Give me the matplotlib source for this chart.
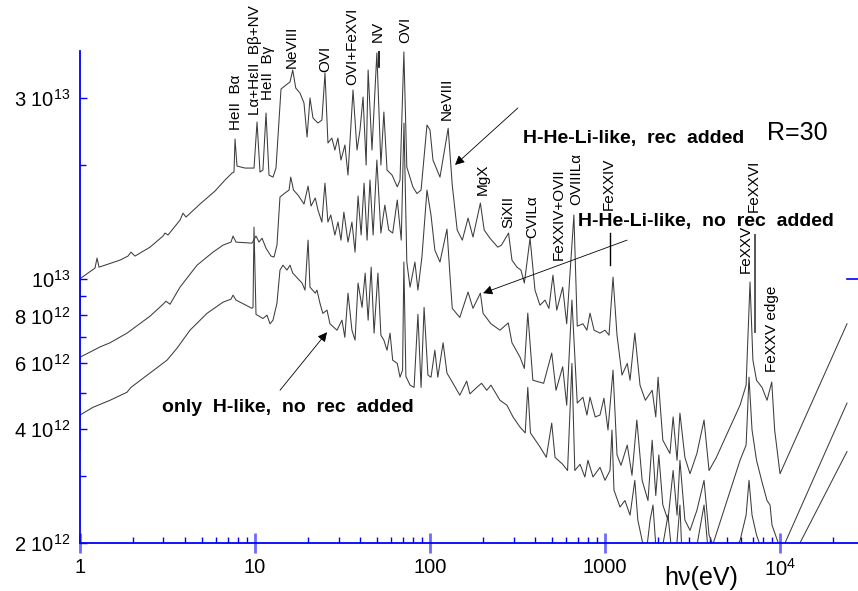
import matplotlib
matplotlib.use("Agg")
import matplotlib.pyplot as plt

plt.rcParams['font.family'] = ['Liberation Sans', 'DejaVu Sans']
plt.rcParams['mathtext.fontset'] = 'custom'
plt.rcParams['mathtext.rm'] = 'Liberation Sans'
plt.rcParams['mathtext.it'] = 'Liberation Sans:italic'

# ---------------- data (energy in eV, flux in units of 1e12) ----------------
top_e = [1.0, 1.0, 1.218, 1.251, 1.284, 1.693, 1.880, 1.956, 2.062, 2.512, 2.981, 3.060, 3.183,
         3.728, 3.878, 4.034, 4.850, 5.909, 6.739, 7.389, 7.586, 7.687, 7.892, 8.768, 9.871,
         10.27, 10.68, 11.10, 11.56, 12.02, 12.67, 13.18, 14.08, 15.02, 15.85, 16.43, 17.09,
         18.08, 19.05, 19.84, 20.62, 21.44, 22.88, 24.11, 25.12, 26.11, 27.48, 28.61, 29.76,
         30.99, 32.65, 33.99, 36.31, 38.28, 39.81, 41.44, 43.15, 44.3, 46.6, 49.7, 52.4, 54.5,
         56.8, 60.7, 65.0, 67.4, 70.9, 73.7, 79.8, 84.2, 88.9, 96.1, 100, 104, 114, 127, 134,
         143, 153, 165, 176, 194, 204, 220, 244, 256, 281, 294, 314, 331, 346, 373, 398, 425,
         454, 478, 504, 530, 573, 604, 664, 694, 748, 788, 821, 866, 936, 1000, 1054, 1111,
         1171, 1250, 1340, 1390, 1480, 1585, 1700, 1860, 1950, 2010, 2140, 2350, 2450, 2580,
         2680, 2860, 3060, 3350, 3680, 3930, 4330, 5910, 6400, 6740, 7000, 7340, 7890, 8430,
         8970, 9320, 10000, 24140]
top_f = [7.27, 10.0, 10.67, 11.34, 10.73, 11.20, 11.48, 11.76, 11.48, 12.12, 12.97, 13.21, 13.05,
         14.29, 14.91, 14.56, 15.76, 17.06, 18.24, 19.03, 19.15, 23.41, 19.86, 19.62, 19.62,
         25.97, 19.15, 19.39, 27.43, 18.80, 18.57, 19.62, 31.75, 32.53, 33.15, 35.65, 31.95,
         30.98, 29.15, 23.70, 30.07, 26.62, 25.81, 26.29, 35.01, 22.86, 23.55, 21.90, 23.55,
         20.60, 22.58, 18.80, 31.56, 21.90, 24.74, 30.24, 19.98, 35.65, 21.90, 39.55, 19.98, 27.6,
         19.39, 18.80, 17.5, 18.24, 39.8, 19.74, 17.5, 16.8, 17.16, 25.5, 24.74, 20.6, 18.57, 25.0, 17.69,
         13.45, 12.65, 14.47, 12.89, 15.85, 13.45, 12.8, 12.12, 12.27, 13.21, 11.20, 10.73, 10.54, 9.74,
         12.8, 9.33, 8.51, 8.78, 8.35, 10.22, 8.26, 9.5, 7.6, 14.74, 7.49, 7.6, 7.31, 8.11, 7.31,
         7.18, 7.31, 7.09, 10.1, 7.09, 5.56, 5.97, 5.39, 7.18, 5.23, 4.77, 5.07, 4.31, 5.49, 3.74,
         3.45, 4.31, 3.31, 4.41, 3.37, 3.05, 3.45, 4.23, 3.11, 3.37, 4.63, 5.23, 9.8, 6.09, 5.39,
         5.16, 4.77, 5.33, 3.98, 3.05, 7.6]

mid_e = [1.0, 1.0, 1.301, 1.484, 1.856, 1.956, 2.512, 2.981, 3.101, 3.268, 3.728, 4.663, 5.756,
         6.565, 7.293, 7.487, 7.789, 9.615, 10.13, 10.54, 10.97, 11.56, 12.34, 12.84, 13.35, 13.89,
         14.82, 15.65, 16.0, 16.6, 17.6, 19.05, 20.1, 20.9, 22.1, 22.9, 24.1, 25.1, 26.1, 27.1,
         28.6, 29.8, 31.0, 32.2, 34.0, 35.8, 37.3, 38.8, 40.4, 42.0, 43.7, 45.4, 47.3, 49.7, 52.4,
         55.2, 58.1, 61.2, 65.0, 68.5, 71.0, 73.7, 76.9, 82.0, 85.3, 89.9, 96.1, 101.3, 106.6,
         114, 125, 130, 134, 148, 165, 176, 194, 201, 223, 251, 280, 294, 327, 346, 362, 387, 446,
         496, 525, 573, 604, 647, 694, 748, 788, 821, 879, 936, 986, 1040, 1111, 1171, 1234, 1340,
         1426, 1520, 1630, 1760, 1860, 1950, 2030, 2140, 2290, 2450, 2580, 2680, 2860, 3060, 3350,
         3680, 3930, 4130, 5910, 6400, 6650, 6920, 7340, 7890, 8430, 8770, 9000, 10000, 10530,
         24140]
mid_f = [4.36, 6.2, 6.6, 6.77, 7.18, 7.31, 7.96, 8.56, 8.72, 8.56, 9.5, 10.86, 11.76, 12.27, 12.5,
         12.97, 12.5, 12.42, 12.97, 12.5, 12.8, 12.04, 11.48, 11.41, 12.27, 16.45, 16.85, 17.16,
         18.57, 17.16, 16.65, 15.76, 17.58, 15.57, 16.35, 15.19, 14.12, 17.9, 14.12, 14.74, 13.05,
         14.12, 12.65, 15.0, 12.5, 14.12, 11.76, 16.55, 13.05, 17.9, 12.65, 18.24, 13.05, 20.6,
         13.21, 15.66, 13.45, 13.21, 16.15, 12.65, 25.8, 11.07, 9.5, 11.07, 9.33, 11.41, 17.16,
         14.74, 11.90, 11.07, 13.53, 10.22, 8.35, 7.9, 9.22, 8.35, 9.16, 8.1, 7.6, 7.31, 7.64,
         6.77, 6.2, 5.79, 8.11, 5.39, 5.29, 6.36, 5.07, 5.85, 4.63, 8.78, 4.69, 4.86, 4.36, 4.86,
         4.31, 4.36, 4.83, 3.98, 5.73, 3.42, 3.21, 3.63, 3.02, 4.23, 2.93, 2.59, 3.74, 2.67, 3.42,
         2.52, 2.30, 3.11, 2.37, 3.31, 2.30, 2.16, 2.44, 2.93, 2.10, 1.98, 3.31, 3.63, 5.49, 3.98,
         3.31, 2.9, 2.59, 2.52, 2.23, 1.94, 1.97, 4.69]

bot_e = [1.0, 1.0, 1.187, 1.484, 1.856, 1.956, 2.512, 3.142, 3.584, 4.252, 5.318, 6.565, 7.293,
         7.487, 7.789, 9.615, 9.742, 9.87, 10.13, 11.10, 11.71, 12.18, 12.67, 13.35, 13.89, 14.45,
         15.22, 15.85, 16.43, 18.57, 19.31, 20.1, 20.62, 22.1, 22.6, 23.5, 24.4, 25.8, 26.8, 29.4,
         31.4, 32.6, 34.0, 35.8, 37.3, 38.8, 40.9, 42.6, 44.3, 46.1, 47.9, 50.4, 52.4, 54.5, 56.8,
         59.1, 61.2, 65.0, 67.4, 69.7, 70.9, 72.8, 76.9, 81.1, 85.3, 88.9, 92.5, 97.3, 101.3,
         106.6, 110.8, 118.8, 125, 134, 148, 162, 169, 185, 197, 211, 223, 251, 275, 298, 327,
         350, 362, 375, 425, 462, 496, 518, 573, 611, 647, 672, 720, 767, 799, 854, 936, 1000,
         1068, 1096, 1125, 1218, 1300, 1390, 1480, 1540, 1630, 1700, 1810, 1880, 1950, 2060,
         2190, 2290, 2400, 2530, 2680, 2760, 3060, 3350, 3680, 3930, 4130, 4850, 5910, 6400,
         6650, 6920, 7340, 7890, 8770, 10000, 11400, 13000, 24140]
bot_f = [3.52, 4.36, 4.57, 4.77, 5.01, 5.16, 5.63, 6.09, 6.55, 7.31, 8.1, 8.67, 8.83, 9.05, 8.78,
         8.35, 8.4, 13.69, 8.05, 7.85, 8.01, 7.6, 7.77, 8.62, 10.54, 10.86, 10.54, 10.86, 10.35,
         9.74, 9.33, 12.65, 9.5, 9.16, 9.33, 8.62, 8.1, 8.26, 7.6, 7.31, 7.77, 7.0, 9.16, 7.31,
         6.88, 9.74, 8.4, 10.35, 7.77, 10.73, 7.18, 10.35, 7.09, 6.88, 6.47, 7.18, 6.09, 5.97,
         5.49, 5.73, 11.07, 5.52, 5.23, 5.16, 8.05, 5.16, 8.4, 5.56, 5.49, 6.47, 5.49, 6.77, 5.63,
         5.33, 4.92, 5.36, 4.96, 5.16, 5.29, 5.07, 5.23, 4.77, 4.63, 4.31, 4.05, 3.91, 5.16, 3.91,
         3.59, 3.37, 4.15, 3.37, 3.23, 3.11, 5.97, 3.11, 3.23, 2.99, 3.31, 2.99, 3.17, 2.93, 3.11,
         3.98, 2.76, 2.49, 2.59, 2.37, 2.93, 2.30, 2.03, 1.80, 2.30, 2.52, 1.97, 1.80, 2.10, 2.37,
         1.91, 1.80, 2.52, 1.80, 1.70, 1.97, 2.52, 1.80, 1.65, 1.75, 2.03, 2.37, 2.93, 2.37, 2.10,
         1.91, 1.75, 1.60, 1.70, 2.0, 3.49]

x_ticks = [1, 10, 100, 1000, 1e4]
x_ticklabels = ['1', '10', '100', '1000', r'10$^4$']
y_ticks = [2e12, 4e12, 6e12, 8e12, 1e13, 3e13]
y_ticklabels = [r'2 10$^{12}$', r'4 10$^{12}$', r'6 10$^{12}$', r'8 10$^{12}$', r'10$^{13}$', r'3 10$^{13}$']
y_minor = [3e12, 5e12, 7e12, 9e12, 2e13]

# line labels: (text, energy, flux of label bottom in 1e12)
line_labels = [
    ("HeII  Bα", 7.79, 24.7),
    ("Lα+HεII  Bβ+NV", 9.95, 27.1),
    ("HeII  Bγ", 11.85, 29.7),
    ("NeVIII", 16.27, 36.1),
    ("OVI", 25.1, 35.2),
    ("OVI+FeXVI", 35.8, 32.5),
    ("NV", 50.5, 42.3),
    ("OVI", 71.9, 42.0),
    ("NeVIII", 125, 26.3),
    ("MgX", 201, 16.65),
    ("SiXII", 279, 13.6),
    ("CVILα", 383, 12.8),
    ("FeXXIV+OVII", 546, 11.2),
    ("OVIIILα", 683, 15.7),
    ("FeXXIV", 1054, 15.2),
    ("FeXXV", 6393, 10.35),
    ("FeXXVI", 7100, 15.0),
    ("FeXXV edge", 9000, 5.66),
]

W, H = 858, 591
fig = plt.figure(figsize=(W / 100, H / 100), dpi=100)
ax = fig.add_axes([80 / W, 48 / H, 778 / W, 492.3 / H])
ax.set_xscale('log')
ax.set_yscale('log')
ax.set_xlim(1, 27900)
ax.set_ylim(2e12, 4.01e13)

lc = '#3c3c3c'
for e, f in ((top_e, top_f), (mid_e, mid_f), (bot_e, bot_f)):
    ax.plot(e, [v * 1e12 for v in f], color=lc, lw=0.75)

blue = '#0000ff'
for s in ('top', 'right'):
    ax.spines[s].set_visible(False)
for s in ('left', 'bottom'):
    ax.spines[s].set_color(blue)
    ax.spines[s].set_linewidth(1.3)

ax.set_xticks(x_ticks)
ax.set_xticklabels(x_ticklabels)
ax.set_xticks([m * 10 ** d for d in range(0, 5) for m in range(2, 10) if m * 10 ** d < 27900], minor=True)
ax.set_xticklabels([], minor=True)
ax.set_yticks(y_ticks)
ax.set_yticklabels(y_ticklabels)
ax.set_yticks(y_minor, minor=True)
ax.set_yticklabels([], minor=True)

ax.tick_params(axis='x', which='major', direction='inout', length=15, width=2, color='#6a6aff',
               labelsize=14.5, pad=3)
ax.tick_params(axis='x', which='minor', direction='in', length=4, width=1, color=blue)
ax.tick_params(axis='y', which='major', direction='in', length=5, width=1, color=blue,
               labelsize=14.5, pad=7)
ax.tick_params(axis='y', which='minor', direction='in', length=4, width=1, color=blue)

ax.axhline(1e13, 0.986, 1.0, color=blue, lw=1.2, clip_on=False)

for txt, e, f in line_labels:
    ax.text(e, f * 1e12, txt, rotation=90, ha='center', va='bottom', fontsize=11,
            clip_on=False)

# marker lines
ax.plot([51.1, 51.1], [36.3e12, 40.0e12], color='k', lw=1.2)
ax.plot([1068, 1068], [10.86e12, 13.2e12], color='k', lw=1.0)
ax.plot([7200, 7200], [7.22e12, 13.05e12], color='#555555', lw=1.4)

bold = dict(fontsize=14, fontweight='bold', va='center', ha='left')
ax.text(340, 23.5e12, "H-He-Li-like,  rec  added", **bold)
ax.text(701, 14.2e12, "H-He-Li-like,  no  rec  added", **bold)
ax.text(2.94, 4.57e12, "only  H-like,  no  rec  added", **bold)
ax.text(8430, 24.3e12, "R=30", fontsize=18, va='center', ha='left')

arr = dict(arrowstyle='-|>', color='k', lw=0.6, mutation_scale=14, shrinkA=0, shrinkB=0)
ax.annotate("", xy=(139, 20.0e12), xytext=(318, 28.3e12), arrowprops=arr)
ax.annotate("", xy=(201, 9.16e12), xytext=(1336, 12.65e12), arrowprops=arr)
ax.annotate("", xy=(25.8, 7.22e12), xytext=(13.9, 5.07e12), arrowprops=arr)

fig.text(701 / W, 1 - 578 / H, "hν(eV)", fontsize=18, ha='center', va='center')

fig.savefig("out.png", dpi=100)
